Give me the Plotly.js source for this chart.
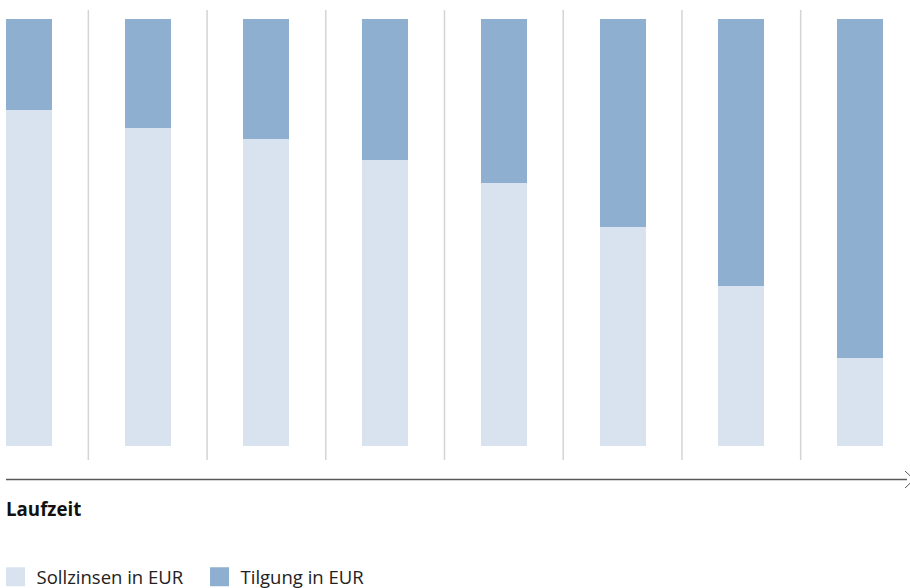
<!DOCTYPE html>
<html>
<head>
<meta charset="utf-8">
<script src="https://cdn.plot.ly/plotly-3.0.1.min.js"></script>
<style>html,body{margin:0;padding:0;background:#fff;overflow:hidden}#chart{width:910px;height:588px}</style>
</head>
<body>
<div id="chart"></div>
<script>
// Data (percent share of the annuity payment per period)
var periods = ['1', '2', '3', '4', '5', '6', '7', '8'];
var sollzinsen = [78.7, 74.5, 71.9, 67.0, 61.6, 51.3, 37.5, 20.6];
var tilgung = [21.3, 25.5, 28.1, 33.0, 38.4, 48.7, 62.5, 79.4];
var seriesNames = ['Sollzinsen in EUR', 'Tilgung in EUR'];
var axisLabel = 'Laufzeit';

var lightBlue = '#d9e3ef';
var midBlue = '#8eafd0';

var traces = [
  {type: 'bar', x: periods, y: sollzinsen, name: seriesNames[0], showlegend: false,
   marker: {color: lightBlue, line: {width: 0}}, hoverinfo: 'skip'},
  {type: 'bar', x: periods, y: tilgung, name: seriesNames[1], showlegend: false,
   marker: {color: midBlue, line: {width: 0}}, hoverinfo: 'skip'},
  // legend entries (larger square swatches)
  {type: 'scatter', mode: 'markers', x: [null], y: [null], name: seriesNames[0],
   marker: {symbol: 'square', size: 16, color: lightBlue, line: {color: lightBlue, width: 3}},
   hoverinfo: 'skip'},
  {type: 'scatter', mode: 'markers', x: [null], y: [null], name: seriesNames[1],
   marker: {symbol: 'square', size: 16, color: midBlue, line: {color: midBlue, width: 3}},
   hoverinfo: 'skip'}
];

var shapes = [];
for (var i = 0; i < periods.length - 1; i++) {
  shapes.push({type: 'line', xref: 'x', yref: 'y', x0: i + 0.5, x1: i + 0.5,
    y0: -3.28, y1: 102.1, line: {color: '#d4d4d4', width: 1.5}, layer: 'below'});
}
// x axis line with arrow head (tip runs past the right edge)
shapes.push({type: 'line', xref: 'paper', yref: 'paper', x0: 6/910, x1: 907/910,
  y0: 1 - 479.5/588, y1: 1 - 479.5/588, line: {color: '#5a5a5a', width: 1.5}});
shapes.push({type: 'path', xref: 'paper', yref: 'paper',
  path: 'M ' + (905/910) + ' ' + (1 - 471/588) + ' L ' + (914/910) + ' ' + (1 - 479.5/588) +
        ' L ' + (905/910) + ' ' + (1 - 488/588),
  line: {color: '#5a5a5a', width: 1}});

var layout = {
  width: 910, height: 588,
  margin: {l: 0, r: 0, t: 0, b: 0, pad: 0, autoexpand: false},
  paper_bgcolor: '#fff', plot_bgcolor: '#fff',
  barmode: 'stack', bargap: 0.6125,
  font: {family: 'Open Sans, Noto Sans, sans-serif', color: '#222'},
  xaxis: {type: 'category', range: [-0.2443, 7.421], showgrid: false, zeroline: false,
    showticklabels: false, ticks: '', showline: false, fixedrange: true},
  yaxis: {range: [-33.26, 104.45], showgrid: false, zeroline: false,
    showticklabels: false, ticks: '', showline: false, fixedrange: true},
  showlegend: true,
  legend: {orientation: 'h', x: -0.006, xanchor: 'left', y: -0.014, yanchor: 'bottom',
    font: {size: 18.5, color: '#222'}, traceorder: 'normal', itemclick: false,
    itemwidth: 32, entrywidth: 157, entrywidthmode: 'pixels',
    bgcolor: 'rgba(0,0,0,0)'},
  shapes: shapes,
  annotations: [{xref: 'paper', yref: 'paper', x: 4/910, y: 1 - 508/588,
    xanchor: 'left', yanchor: 'middle', showarrow: false,
    text: '<b>' + axisLabel + '</b>', font: {size: 18.7, color: '#111'}}]
};

Plotly.newPlot('chart', traces, layout, {displayModeBar: false, staticPlot: true});
</script>
</body>
</html>
